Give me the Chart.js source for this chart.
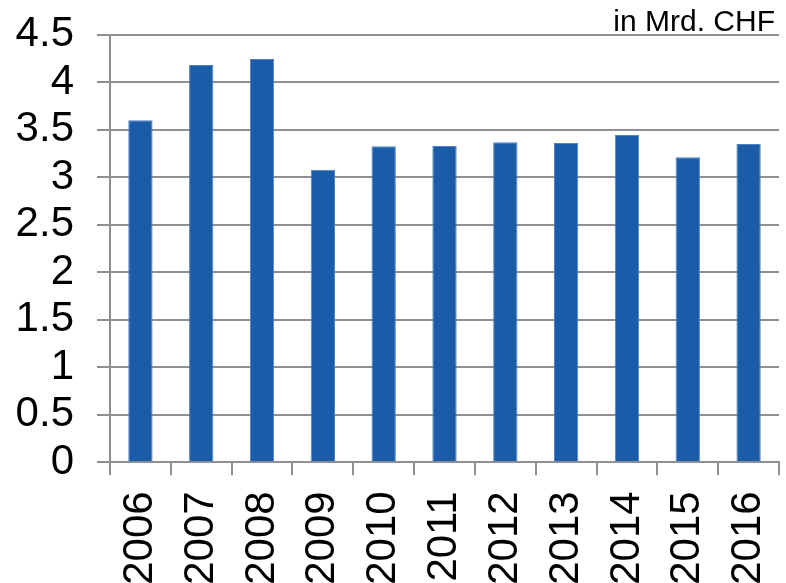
<!DOCTYPE html>
<html>
<head>
<meta charset="utf-8">
<script src="https://cdn.jsdelivr.net/npm/chart.js@4/dist/chart.umd.min.js"></script>
<style>
  html, body { margin: 0; padding: 0; background: #fff; }
  #wrap { width: 786px; height: 583px; }
</style>
</head>
<body>
<div id="wrap"><canvas id="c" width="786" height="583"></canvas></div>
<script>
const years = ['2006','2007','2008','2009','2010','2011','2012','2013','2014','2015','2016'];
const values = [3.60, 4.18, 4.245, 3.08, 3.325, 3.33, 3.368, 3.36, 3.445, 3.21, 3.35];
const yTickLabels = ['0','0.5','1','1.5','2','2.5','3','3.5','4','4.5'];
const unitLabel = 'in Mrd. CHF';
const yMin = 0, yMax = 4.5, yStep = 0.5;

const FONT = 'Liberation Sans, Arial, sans-serif';
const GRID = '#909090';

const unitPlugin = {
  id: 'unitLabel',
  afterDraw(chart) {
    const ctx = chart.ctx;
    ctx.save();
    ctx.font = '30px ' + FONT;
    ctx.fillStyle = '#000';
    ctx.textAlign = 'right';
    ctx.textBaseline = 'alphabetic';
    ctx.fillText(unitLabel, chart.chartArea.right - 4, chart.chartArea.top - 3.5);
    ctx.restore();
  }
};

new Chart(document.getElementById('c'), {
  type: 'bar',
  data: {
    labels: years,
    datasets: [{
      data: values,
      backgroundColor: '#1b5ca8',
      borderColor: '#4f82c2',
      borderWidth: 1,
      barPercentage: 0.4,
      categoryPercentage: 1.0
    }]
  },
  plugins: [unitPlugin],
  options: {
    responsive: false,
    animation: false,
    devicePixelRatio: 1,
    layout: { padding: { left: 0, right: 7, top: 34.7, bottom: 0 } },
    plugins: {
      legend: { display: false },
      tooltip: { enabled: false },
      title: { display: false }
    },
    scales: {
      x: {
        afterFit: (s) => { s.height = 120.7; s.paddingLeft = 0; s.paddingRight = 0; s.paddingTop = 0; s.paddingBottom = 0; },
        grid: { display: true, drawOnChartArea: false, drawTicks: true, tickLength: 13, color: GRID, lineWidth: 2, offset: true },
        border: { display: true, color: GRID, width: 2 },
        ticks: { color: '#000', font: { family: FONT, size: 42 }, minRotation: 90, maxRotation: 90, padding: 16, autoSkip: false }
      },
      y: {
        min: yMin, max: yMax,
        afterFit: (s) => { s.width = 110; s.paddingTop = 0; s.paddingBottom = 0; s.paddingLeft = 0; s.paddingRight = 0; },
        grid: { display: true, drawOnChartArea: true, drawTicks: true, tickLength: 13, color: GRID, lineWidth: 2 },
        border: { display: true, color: GRID, width: 2 },
        ticks: {
          stepSize: yStep, autoSkip: false, color: '#000', font: { family: FONT, size: 42 }, padding: 23,
          callback: (v) => { const i = Math.round((v - yMin) / yStep); return yTickLabels[i] !== undefined ? yTickLabels[i] : String(v); }
        }
      }
    }
  }
});
</script>
</body>
</html>
